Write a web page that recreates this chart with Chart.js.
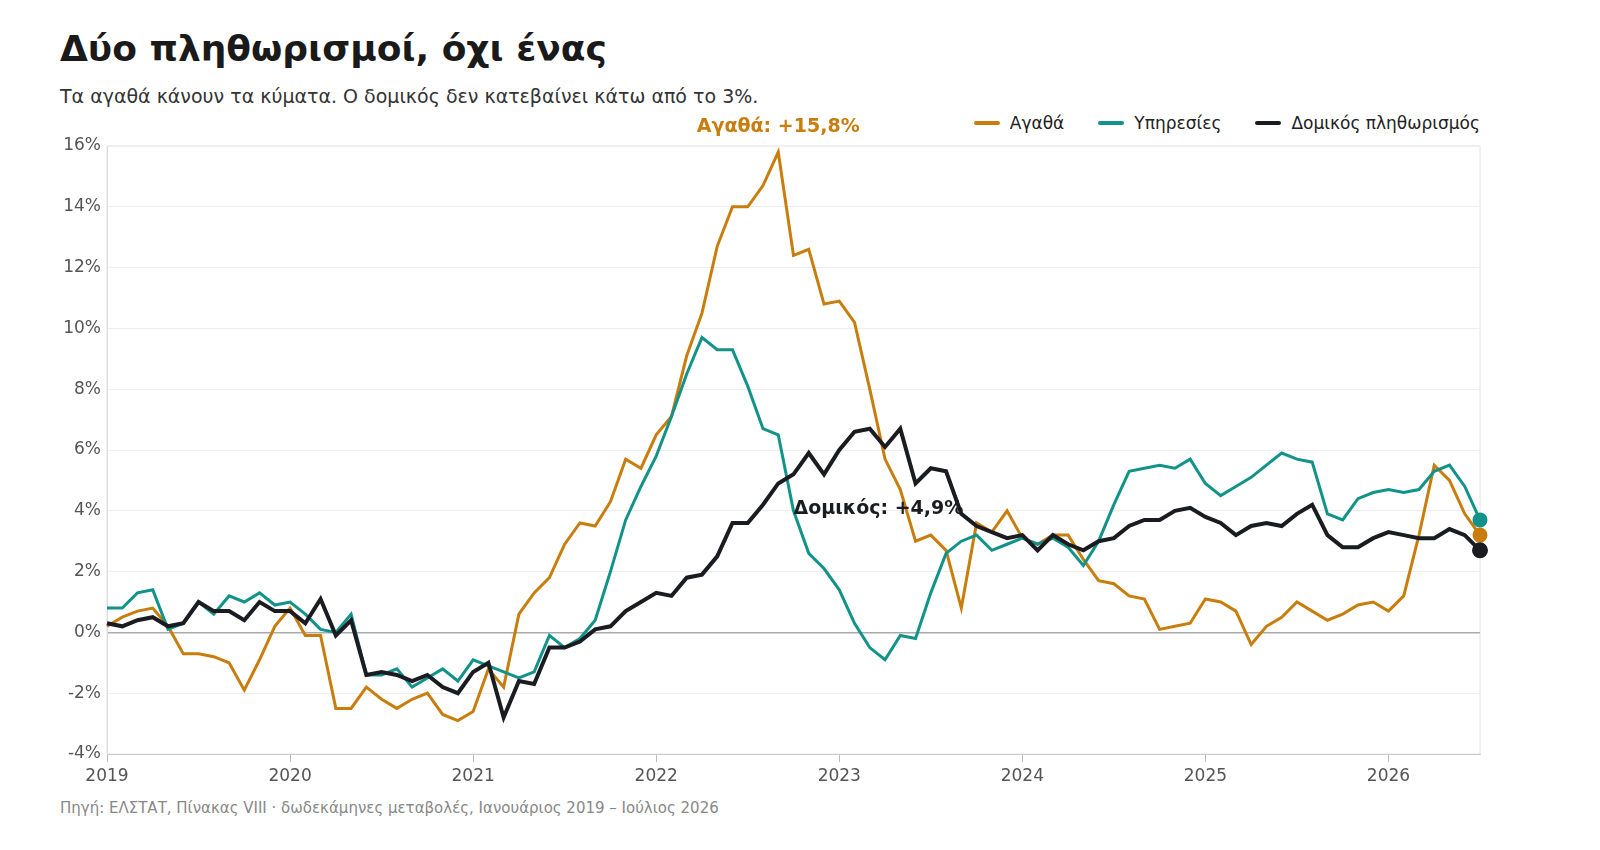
<!DOCTYPE html>
<html><head><meta charset="utf-8">
<script src="https://cdn.jsdelivr.net/npm/chart.js@4"></script>
<style>
body{margin:0;width:1600px;height:850px;background:#fff;font-family:"DejaVu Sans",sans-serif;position:relative;overflow:hidden}
#t{position:absolute;left:60px;top:28px;font-size:36px;font-weight:bold;color:#1a1a1a}
#s{position:absolute;left:60px;top:85px;font-size:19px;color:#333}
#src{position:absolute;left:60px;top:799px;font-size:15px;color:#888}
#lg{position:absolute;right:120px;top:113px;font-size:17px;color:#222;display:flex;gap:34px}
#lg span{display:flex;align-items:center}
#lg i{display:inline-block;width:26px;height:4px;margin-right:10px;border-radius:2px}
canvas{position:absolute;left:0;top:0}
</style></head><body>
<div id="t">Δύο πληθωρισμοί, όχι ένας</div>
<div id="s">Τα αγαθά κάνουν τα κύματα. Ο δομικός δεν κατεβαίνει κάτω από το 3%.</div>
<div id="lg"><span><i style="background:#c97d0c"></i>Αγαθά</span><span><i style="background:#12938a"></i>Υπηρεσίες</span><span><i style="background:#1a1c22"></i>Δομικός πληθωρισμός</span></div>
<div id="src">Πηγή: ΕΛΣΤΑΤ, Πίνακας VIII · δωδεκάμηνες μεταβολές, Ιανουάριος 2019 – Ιούλιος 2026</div>
<canvas id="c" width="1600" height="850"></canvas>
<script>
const years=['2019','2020','2021','2022','2023','2024','2025','2026'];
const goods=[0.2,0.5,0.7,0.8,0.2,-0.7,-0.7,-0.8,-1.0,-1.9,-0.9,0.2,0.8,-0.1,-0.1,-2.5,-2.5,-1.8,-2.2,-2.5,-2.2,-2.0,-2.7,-2.9,-2.6,-1.2,-1.8,0.6,1.3,1.8,2.9,3.6,3.5,4.3,5.7,5.4,6.5,7.1,9.1,10.5,12.7,14.0,14.0,14.7,15.8,12.4,12.6,10.8,10.9,10.2,8.0,5.7,4.7,3.0,3.2,2.7,0.8,3.6,3.3,4.0,3.1,2.9,3.2,3.2,2.4,1.7,1.6,1.2,1.1,0.1,0.2,0.3,1.1,1.0,0.7,-0.4,0.2,0.5,1.0,0.7,0.4,0.6,0.9,1.0,0.7,1.2,3.2,5.5,5.0,3.9,3.2];
const services=[0.8,0.8,1.3,1.4,0.1,0.3,1.0,0.6,1.2,1.0,1.3,0.9,1.0,0.6,0.1,0.0,0.6,-1.4,-1.4,-1.2,-1.8,-1.5,-1.2,-1.6,-0.9,-1.1,-1.3,-1.5,-1.3,-0.1,-0.5,-0.2,0.4,2.0,3.7,4.8,5.8,7.1,8.5,9.7,9.3,9.3,8.1,6.7,6.5,4.0,2.6,2.1,1.4,0.3,-0.5,-0.9,-0.1,-0.2,1.3,2.6,3.0,3.2,2.7,2.9,3.1,2.9,3.1,2.8,2.2,3.0,4.2,5.3,5.4,5.5,5.4,5.7,4.9,4.5,4.8,5.1,5.5,5.9,5.7,5.6,3.9,3.7,4.4,4.6,4.7,4.6,4.7,5.3,5.5,4.8,3.7];
const core=[0.3,0.2,0.4,0.5,0.2,0.3,1.0,0.7,0.7,0.4,1.0,0.7,0.7,0.3,1.1,-0.1,0.4,-1.4,-1.3,-1.4,-1.6,-1.4,-1.8,-2.0,-1.3,-1.0,-2.8,-1.6,-1.7,-0.5,-0.5,-0.3,0.1,0.2,0.7,1.0,1.3,1.2,1.8,1.9,2.5,3.6,3.6,4.2,4.9,5.2,5.9,5.2,6.0,6.6,6.7,6.1,6.7,4.9,5.4,5.3,3.9,3.5,3.3,3.1,3.2,2.7,3.2,2.9,2.7,3.0,3.1,3.5,3.7,3.7,4.0,4.1,3.8,3.6,3.2,3.5,3.6,3.5,3.9,4.2,3.2,2.8,2.8,3.1,3.3,3.2,3.1,3.1,3.4,3.2,2.7];
const yTicks=[-4,-2,0,2,4,6,8,10,12,14,16];
const toPts=a=>a.map((v,i)=>({x:i,y:v}));
const last=a=>a.map((v,i)=>i===a.length-1?6:0);
const mk=(d,c,w)=>({data:toPts(d),borderColor:c,backgroundColor:c,borderWidth:w,pointRadius:last(d),pointHoverRadius:0,tension:0,clip:false});
const FONT='"DejaVu Sans",sans-serif';
const ann={id:'ann',afterDatasetsDraw(ch){const {ctx,scales:{x,y}}=ch;ctx.save();ctx.font='bold 19px '+FONT;ctx.textAlign='center';ctx.fillStyle='#c97d0c';ctx.fillText('Αγαθά: +15,8%',x.getPixelForValue(44),y.getPixelForValue(15.8)-20);ctx.fillStyle='#1a1c22';ctx.textAlign='left';ctx.fillText('Δομικός: +4,9%',x.getPixelForValue(45),y.getPixelForValue(4.9)+31);ctx.restore();}};
new Chart(document.getElementById('c'),{type:'line',data:{datasets:[mk(goods,'#c97d0c',3),mk(services,'#12938a',3),mk(core,'#1a1c22',4)].reverse()},
options:{responsive:false,animation:false,layout:{padding:{left:45,right:120,top:146,bottom:66}},plugins:{legend:{display:false},tooltip:{enabled:false}},
scales:{x:{type:'linear',min:0,max:90,afterFit(a){a.height=30},afterBuildTicks(a){a.ticks=years.map((_,i)=>({value:i*12}))},ticks:{callback:(v)=>years[v/12],color:'#555',font:{size:17,family:FONT},padding:4},grid:{drawOnChartArea:false,color:'#bbb',tickLength:8},border:{color:'#ccc'}},
y:{min:-4,max:16,afterFit(a){a.width=62},afterBuildTicks(a){a.ticks=yTicks.map(v=>({value:v}))},ticks:{callback:v=>v+'%',color:'#555',font:{size:17,family:FONT},padding:6},grid:{color:c=>c.tick&&c.tick.value===0?'#aaa':'#eee',lineWidth:c=>c.tick&&c.tick.value===0?1.5:1,drawTicks:false},border:{color:'#ddd'}}}},plugins:[ann,{id:'frame',beforeDraw(ch){const a=ch.chartArea,c=ch.ctx;c.save();c.strokeStyle='#e4e4e4';c.strokeRect(a.left,a.top,a.width,a.height);c.restore();}}]});
</script></body></html>
